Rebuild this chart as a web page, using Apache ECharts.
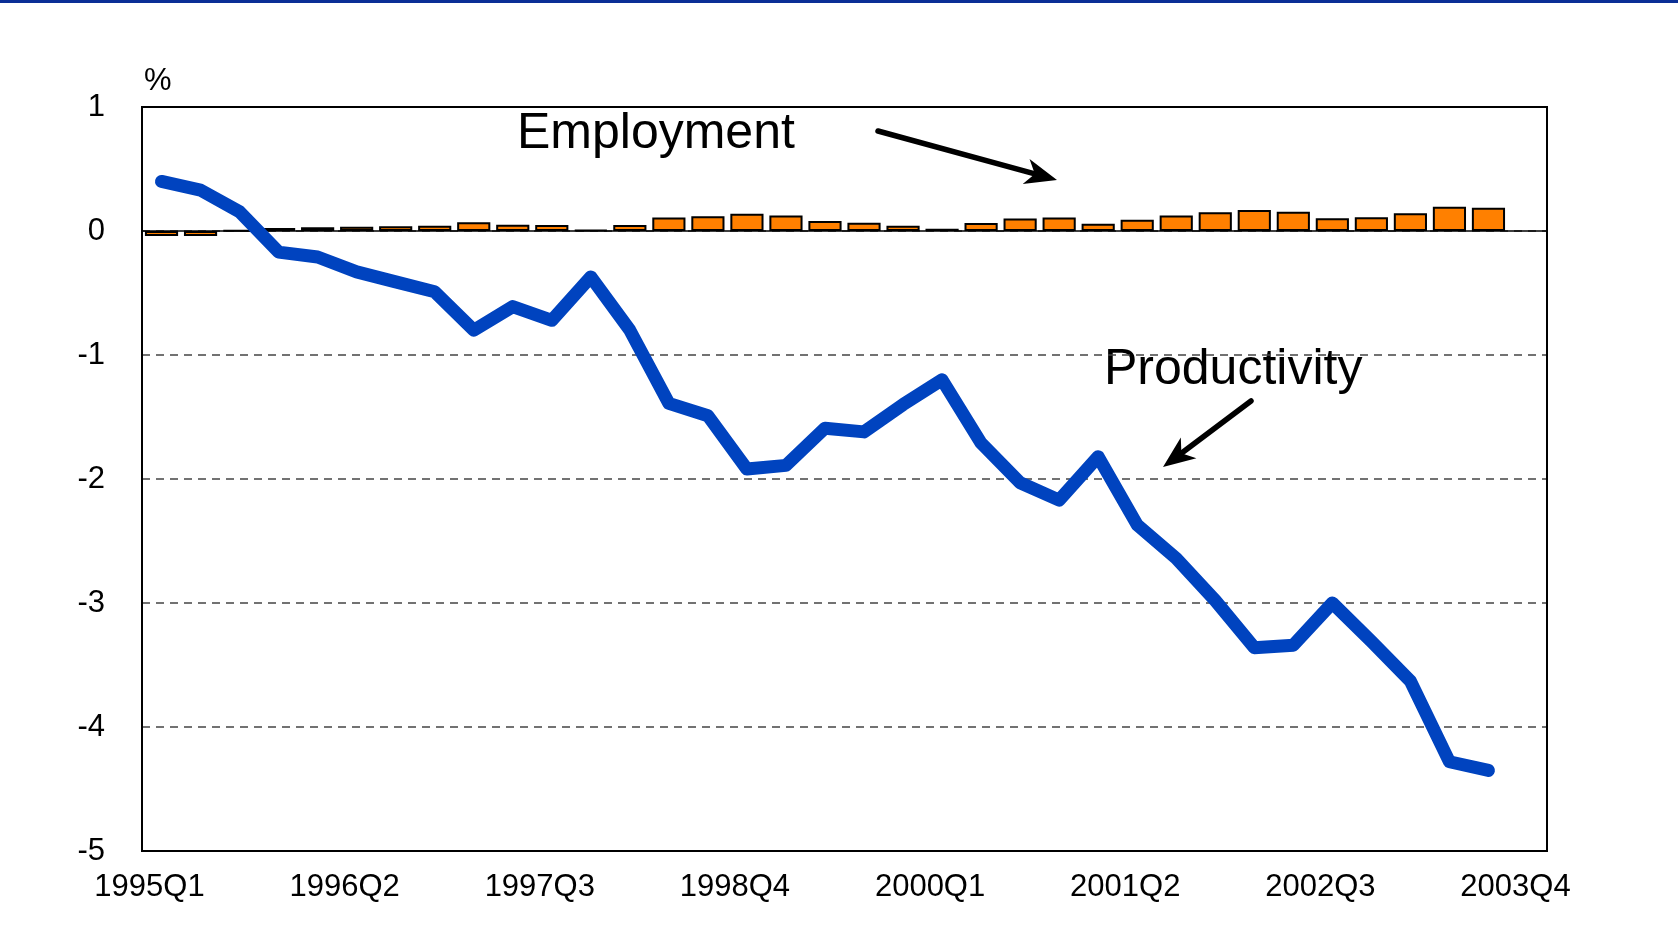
<!DOCTYPE html>
<html>
<head>
<meta charset="utf-8">
<script src="https://cdn.jsdelivr.net/npm/echarts@6/dist/echarts.min.js"></script>
<style>
html,body{margin:0;padding:0;background:#fff;}
#chart{width:1678px;height:943px;}
</style>
</head>
<body>
<div id="chart"></div>
<script>
const categories = ['1995Q1','1995Q2','1995Q3','1995Q4','1996Q1','1996Q2','1996Q3','1996Q4',
  '1997Q1','1997Q2','1997Q3','1997Q4','1998Q1','1998Q2','1998Q3','1998Q4',
  '1999Q1','1999Q2','1999Q3','1999Q4','2000Q1','2000Q2','2000Q3','2000Q4',
  '2001Q1','2001Q2','2001Q3','2001Q4','2002Q1','2002Q2','2002Q3','2002Q4',
  '2003Q1','2003Q2','2003Q3','2003Q4'];
const employment = [-0.04, -0.04, 0.005, 0.024, 0.03, 0.035, 0.038, 0.043, 0.07, 0.051,
  0.048, 0.008, 0.048, 0.108, 0.118, 0.14, 0.126, 0.081, 0.067, 0.043,
  0.019, 0.065, 0.10, 0.108, 0.059, 0.091, 0.126, 0.151, 0.169, 0.156,
  0.102, 0.11, 0.143, 0.196, 0.188, null];
const productivity = [0.40, 0.33, 0.155, -0.17, -0.21, -0.33, -0.41, -0.49, -0.80, -0.61,
  -0.72, -0.37, -0.80, -1.39, -1.49, -1.92, -1.89, -1.59, -1.62, -1.40,
  -1.20, -1.71, -2.03, -2.17, -1.82, -2.37, -2.64, -2.98, -3.36, -3.34,
  -3.00, -3.31, -3.63, -4.28, -4.35, null];
const yTicks = {min: -5, max: 1, interval: 1};

const FONT = "'Liberation Sans', Arial, sans-serif";

function arrow(x1, y1, x2, y2) {
  const dx = x2 - x1, dy = y2 - y1;
  const L = Math.sqrt(dx*dx + dy*dy);
  const ux = dx / L, uy = dy / L;
  const px = -uy, py = ux;
  const headLen = 32, headW = 13, notch = 9;
  const bx = x2 - ux*headLen, by = y2 - uy*headLen;
  const nx = x2 - ux*(headLen - notch), ny = y2 - uy*(headLen - notch);
  return [
    {type:'line', shape:{x1:x1, y1:y1, x2:nx, y2:ny}, style:{stroke:'#000', lineWidth:5.5, lineCap:'round'}, z:100},
    {type:'polygon', shape:{points:[[x2,y2],[bx+px*headW, by+py*headW],[nx,ny],[bx-px*headW, by-py*headW]]}, style:{fill:'#000'}, z:100}
  ];
}

const chart = echarts.init(document.getElementById('chart'), null, {renderer:'canvas'});
const option = {
  backgroundColor: '#fff',
  animation: false,
  textStyle: {fontFamily: FONT},
  grid: {left: 142, right: 131, top: 107, bottom: 92, show: true, borderColor: '#000', borderWidth: 2, backgroundColor: 'transparent', z: 1},
  xAxis: {
    type: 'category',
    data: categories,
    boundaryGap: true,
    axisLine: {show: false},
    axisTick: {show: false},
    axisLabel: {interval: 4, color: '#000', fontSize: 31, fontFamily: FONT, margin: 21, padding: [0, 24, 0, 0]},
    splitLine: {show: false}
  },
  yAxis: {
    type: 'value',
    z: 0,
    min: yTicks.min, max: yTicks.max, interval: yTicks.interval,
    axisLine: {show: false},
    axisTick: {show: false},
    axisLabel: {color: '#000', fontSize: 31, fontFamily: FONT, margin: 37},
    splitLine: {show: true, lineStyle: {color: '#444', type: [8, 6], width: 1.5}}
  },
  series: [
    {
      name: 'Employment',
      type: 'bar',
      data: employment,
      barCategoryGap: '15%',
      itemStyle: {color: '#FF8000', borderColor: '#000', borderWidth: 2},
      markLine: {
        silent: true, symbol: ['none','none'], label: {show: false},
        lineStyle: {color: '#000', type: 'solid', width: 1.5},
        data: [{yAxis: 0}]
      },
      z: 2
    },
    {
      name: 'Productivity',
      type: 'line',
      data: productivity,
      showSymbol: false,
      symbol: 'none',
      lineStyle: {color: '#0043BF', width: 13, cap: 'round', join: 'round'},
      itemStyle: {color: '#0043BF'},
      z: 5
    }
  ],
  graphic: [
    {type:'rect', left: 0, top: 0, shape:{width:1678, height:3}, style:{fill:'#0A2F96'}},
    {type:'text', left: 144, top: 66, style:{text:'%', font:"31px 'Liberation Sans', Arial", fill:'#000'}},
    {type:'text', left: 517, top: 109, style:{text:'Employment', font:"50px 'Liberation Sans', Arial", fill:'#000'}},
    {type:'text', left: 1104, top: 345, style:{text:'Productivity', font:"50px 'Liberation Sans', Arial", fill:'#000'}}
  ].concat(arrow(878, 131, 1057, 180)).concat(arrow(1251, 401, 1163, 467))
};
chart.setOption(option);
</script>
</body>
</html>
